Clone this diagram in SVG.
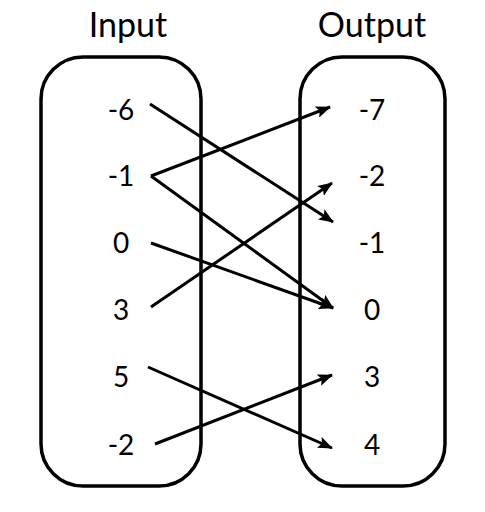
<svg xmlns="http://www.w3.org/2000/svg" width="485" height="512" viewBox="0 0 485 512">
<defs>
<marker id="ah" markerUnits="userSpaceOnUse" markerWidth="16" markerHeight="12" refX="14" refY="6" orient="auto">
<path d="M0,0 L15,6 L0,12 L3,6 Z" fill="#000"/>
</marker>
<style>
.box{fill:none;stroke:#000;stroke-width:3.5}
.t{font-family:Lato,"Liberation Sans",sans-serif;fill:#000;text-anchor:middle}
.h{font-size:34px}
.n{font-size:28px}
.c{stroke:#000;stroke-width:3;fill:none;marker-end:url(#ah)}
</style>
</defs>
<rect width="485" height="512" fill="#fff"/>
<g id="input">
<text class="t h" x="128" y="37">Input</text>
<rect class="box" x="41" y="57" width="160" height="429" rx="42"/>
<text class="t n" x="121" y="120">-6</text>
<text class="t n" x="121" y="186">-1</text>
<text class="t n" x="121" y="253">0</text>
<text class="t n" x="121" y="320">3</text>
<text class="t n" x="121" y="387">5</text>
<text class="t n" x="121" y="455">-2</text>
</g>
<g id="output">
<text class="t h" x="372" y="37">Output</text>
<rect class="box" x="300" y="57" width="145" height="429" rx="42"/>
<text class="t n" x="372" y="120">-7</text>
<text class="t n" x="372" y="186">-2</text>
<text class="t n" x="372" y="253">-1</text>
<text class="t n" x="372" y="320">0</text>
<text class="t n" x="372" y="387">3</text>
<text class="t n" x="372" y="455">4</text>
</g>
<g id="connectors">
<line class="c" x1="150" y1="104" x2="333" y2="222"/>
<line class="c" x1="151" y1="176" x2="330" y2="107"/>
<line class="c" x1="151" y1="176" x2="333" y2="308"/>
<line class="c" x1="151" y1="243" x2="333" y2="308"/>
<line class="c" x1="151" y1="307" x2="332" y2="183"/>
<line class="c" x1="148" y1="367" x2="332" y2="448"/>
<line class="c" x1="155" y1="444" x2="332" y2="375"/>
</g>
</svg>
